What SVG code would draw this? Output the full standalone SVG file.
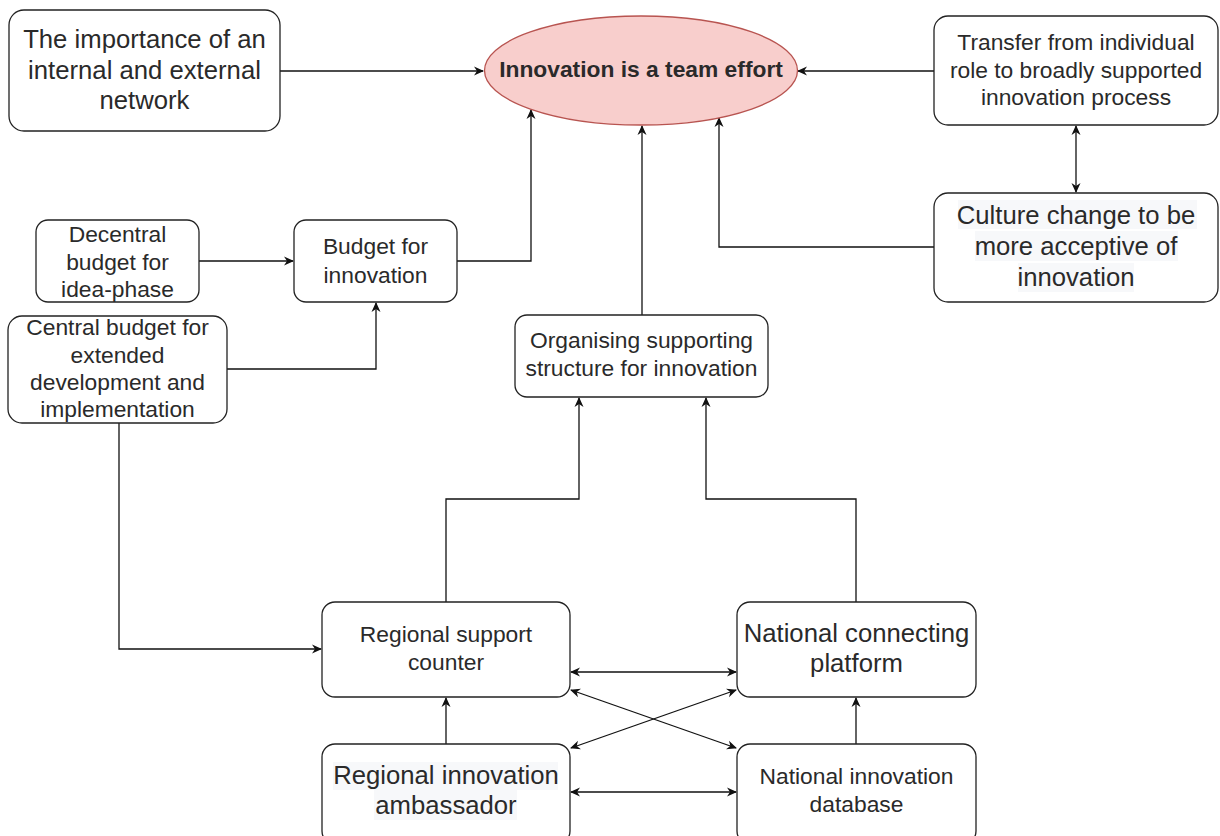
<svg xmlns="http://www.w3.org/2000/svg" width="1220" height="836" viewBox="0 0 1220 836">
  <style>
    .box { fill: #ffffff; stroke: #222222; stroke-width: 1.3; }
    .t { font-family: "Liberation Sans", Arial, sans-serif; fill: #2a2a2a; text-anchor: middle; }
    .sm { font-size: 22.8px; }
    .lg { font-size: 25.7px; }
    .hl { fill: #f7f8fa; }
    .edge { fill: none; stroke: #111111; stroke-width: 1.3; }
  </style>
  <defs>
    <marker id="arrow" viewBox="0 0 10 10" refX="9" refY="5" markerWidth="10" markerHeight="10" markerUnits="userSpaceOnUse" orient="auto-start-reverse">
      <path d="M0,0.5 L10,5 L0,9.5 L3,5 z" fill="#111111"/>
    </marker>
  </defs>

  <rect width="1220" height="836" fill="#ffffff"/>

  <!-- connectors -->
  <g id="connectors">
    <path class="edge" d="M280,71 H483" marker-end="url(#arrow)"/>
    <path class="edge" d="M934,71 H798" marker-end="url(#arrow)"/>
    <path class="edge" d="M1076,126 V192" marker-start="url(#arrow)" marker-end="url(#arrow)"/>
    <path class="edge" d="M934,247 H719 V118" marker-end="url(#arrow)"/>
    <path class="edge" d="M199,261 H293" marker-end="url(#arrow)"/>
    <path class="edge" d="M457,261 H531 V110" marker-end="url(#arrow)"/>
    <path class="edge" d="M227,369 H376 V303" marker-end="url(#arrow)"/>
    <path class="edge" d="M119,423 V649 H321" marker-end="url(#arrow)"/>
    <path class="edge" d="M642,315 V126" marker-end="url(#arrow)"/>
    <path class="edge" d="M446,602 V499 H579 V398" marker-end="url(#arrow)"/>
    <path class="edge" d="M856,602 V499 H706 V398" marker-end="url(#arrow)"/>
    <path class="edge" d="M446,744 V698" marker-end="url(#arrow)"/>
    <path class="edge" d="M856,744 V698" marker-end="url(#arrow)"/>
    <path class="edge" d="M571,672 H736" marker-start="url(#arrow)" marker-end="url(#arrow)"/>
    <path class="edge" d="M571,792 H736" marker-start="url(#arrow)" marker-end="url(#arrow)"/>
    <path class="edge" d="M571,690 L736,748" marker-start="url(#arrow)" marker-end="url(#arrow)"/>
    <path class="edge" d="M571,748 L736,690" marker-start="url(#arrow)" marker-end="url(#arrow)"/>
  </g>

  <!-- central goal -->
  <g id="team-effort">
    <ellipse cx="641" cy="70.5" rx="156.5" ry="54.5" fill="#f8cecc" stroke="#b85450" stroke-width="1.3"/>
    <text class="t" x="641" y="77" font-size="22.8" font-weight="bold" fill="#111111">Innovation is a team effort</text>
  </g>

  <g id="network">
    <rect class="box" x="9" y="10" width="271" height="121" rx="15"/>
    <text class="t lg" x="144.5" y="48">The importance of an</text>
    <text class="t lg" x="144.5" y="78.5">internal and external</text>
    <text class="t lg" x="144.5" y="108.5">network</text>
  </g>

  <g id="transfer">
    <rect class="box" x="934" y="16" width="284" height="109" rx="14"/>
    <text class="t sm" x="1076" y="50">Transfer from individual</text>
    <text class="t sm" x="1076" y="77.5">role to broadly supported</text>
    <text class="t sm" x="1076" y="105">innovation process</text>
  </g>

  <g id="culture">
    <rect class="box" x="934" y="193" width="284" height="109" rx="14"/>
    <rect class="hl" x="958" y="200" width="239" height="29"/>
    <rect class="hl" x="975" y="231" width="203" height="30"/>
    <rect class="hl" x="1018" y="263" width="116" height="29"/>
    <text class="t lg" x="1076" y="224">Culture change to be</text>
    <text class="t lg" x="1076" y="255">more acceptive of</text>
    <text class="t lg" x="1076" y="286">innovation</text>
  </g>

  <g id="decentral-budget">
    <rect class="box" x="36" y="220" width="163" height="82" rx="12"/>
    <text class="t sm" x="117.5" y="241.5">Decentral</text>
    <text class="t sm" x="117.5" y="269.5">budget for</text>
    <text class="t sm" x="117.5" y="297">idea-phase</text>
  </g>

  <g id="budget">
    <rect class="box" x="294" y="220" width="163" height="82" rx="12"/>
    <text class="t sm" x="375.5" y="254">Budget for</text>
    <text class="t sm" x="375.5" y="283">innovation</text>
  </g>

  <g id="central-budget">
    <rect class="box" x="8" y="316" width="219" height="107" rx="14"/>
    <text class="t sm" x="117.5" y="335">Central budget for</text>
    <text class="t sm" x="117.5" y="363">extended</text>
    <text class="t sm" x="117.5" y="390">development and</text>
    <text class="t sm" x="117.5" y="417">implementation</text>
  </g>

  <g id="organising">
    <rect class="box" x="515" y="315" width="253" height="82" rx="12"/>
    <text class="t sm" x="641.5" y="348">Organising supporting</text>
    <text class="t sm" x="641.5" y="376">structure for innovation</text>
  </g>

  <g id="regional-counter">
    <rect class="box" x="322" y="602" width="248" height="95" rx="13"/>
    <text class="t sm" x="446" y="642">Regional support</text>
    <text class="t sm" x="446" y="670">counter</text>
  </g>

  <g id="national-platform">
    <rect class="box" x="737" y="602" width="239" height="95" rx="13"/>
    <text class="t lg" x="856.5" y="642">National connecting</text>
    <text class="t lg" x="856.5" y="672">platform</text>
  </g>

  <g id="regional-ambassador">
    <rect class="box" x="322" y="744" width="248" height="100" rx="13"/>
    <rect class="hl" x="333" y="762" width="225" height="28"/>
    <rect class="hl" x="374" y="790" width="143" height="30"/>
    <text class="t lg" x="446" y="784">Regional innovation</text>
    <text class="t lg" x="446" y="814">ambassador</text>
  </g>

  <g id="national-database">
    <rect class="box" x="737" y="744" width="239" height="100" rx="13"/>
    <text class="t sm" x="856.5" y="784">National innovation</text>
    <text class="t sm" x="856.5" y="812">database</text>
  </g>
</svg>
